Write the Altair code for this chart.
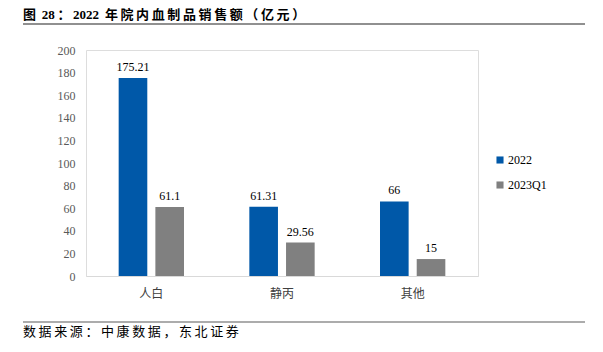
import altair as alt
import pandas as pd

categories = ["人白", "静丙", "其他"]
series = ["2022", "2023Q1"]
values_2022 = [175.21, 61.31, 66]
values_2023q1 = [61.1, 29.56, 15]
labels_2022 = ["175.21", "61.31", "66"]
labels_2023q1 = ["61.1", "29.56", "15"]
y_ticks = [0, 20, 40, 60, 80, 100, 120, 140, 160, 180, 200]

rows = []
for c, v, l in zip(categories, values_2022, labels_2022):
    rows.append({"cat": c, "series": "2022", "value": v, "label": l})
for c, v, l in zip(categories, values_2023q1, labels_2023q1):
    rows.append({"cat": c, "series": "2023Q1", "value": v, "label": l})
df = pd.DataFrame(rows)

W, H = 392, 226
serif = "Liberation Serif, Noto Sans CJK SC"
cjk = "Noto Sans CJK SC"
TS = "\u2009"

title_text = TS.join(["图", " 28", "：", "2022 ", "年", "院", "内", "血", "制", "品", "销", "售", "额", "（", "亿", "元", "）"])
footer_text = TS.join(list("数据来源：中康数据，东北证券"))

xenc = alt.X("cat:N", sort=categories,
             scale=alt.Scale(paddingInner=0.5, paddingOuter=0.25),
             axis=alt.Axis(title=None, labelAngle=0, ticks=False, domainColor="#d9d9d9",
                           labelFont=cjk, labelFontSize=12, labelColor="#404040",
                           labelPadding=12))
xoff = alt.XOffset("series:N", sort=series,
                   scale=alt.Scale(paddingInner=0.22, paddingOuter=0))
yenc = alt.Y("value:Q", scale=alt.Scale(domain=[0, 200]),
             axis=alt.Axis(title=None, values=y_ticks, grid=False, domain=False, ticks=False,
                           labelFont=serif, labelFontSize=12, labelColor="#595959",
                           labelPadding=11))

base = alt.Chart(df)
bars = base.mark_bar().encode(
    x=xenc, xOffset=xoff, y=yenc,
    color=alt.Color("series:N", sort=series,
                    scale=alt.Scale(domain=series, range=["#0058A8", "#808080"]),
                    legend=alt.Legend(title=None, orient="none", legendX=408, legendY=104,
                                      symbolType="square", symbolSize=50, rowPadding=13,
                                      labelFont=serif, labelFontSize=12, labelColor="#000000",
                                      symbolStrokeWidth=0, labelOffset=2)),
)
texts = base.mark_text(dy=-11, font=serif, fontSize=12, color="#000000").encode(
    x=xenc, xOffset=xoff, y=yenc, text="label:N")

title = alt.Chart(pd.DataFrame({"t": [title_text]})).mark_text(
    align="left", baseline="middle", font=serif, fontSize=13, fontWeight="bold", color="#000000"
).encode(x=alt.value(-63), y=alt.value(-35), text="t:N")
title_rule = alt.Chart(pd.DataFrame({"a": [0]})).mark_rule(color="#909090", strokeWidth=2).encode(
    x=alt.value(-63), x2=alt.value(499), y=alt.value(-26))
foot_rule = alt.Chart(pd.DataFrame({"a": [0]})).mark_rule(color="#909090", strokeWidth=1.5).encode(
    x=alt.value(-63), x2=alt.value(499), y=alt.value(272))
footer = alt.Chart(pd.DataFrame({"t": [footer_text]})).mark_text(
    align="left", baseline="middle", font=cjk, fontSize=13, color="#000000"
).encode(x=alt.value(-63), y=alt.value(282), text="t:N")

chart = alt.layer(bars, texts, title, title_rule, foot_rule, footer).properties(
    width=W, height=H,
    autosize=alt.AutoSizeParams(type="none"),
    padding={"left": 86, "top": 50, "right": 125, "bottom": 76},
).configure_view(stroke=None).configure(background="white")

chart.save("out.html", embed_options={"renderer": "svg", "actions": False})
